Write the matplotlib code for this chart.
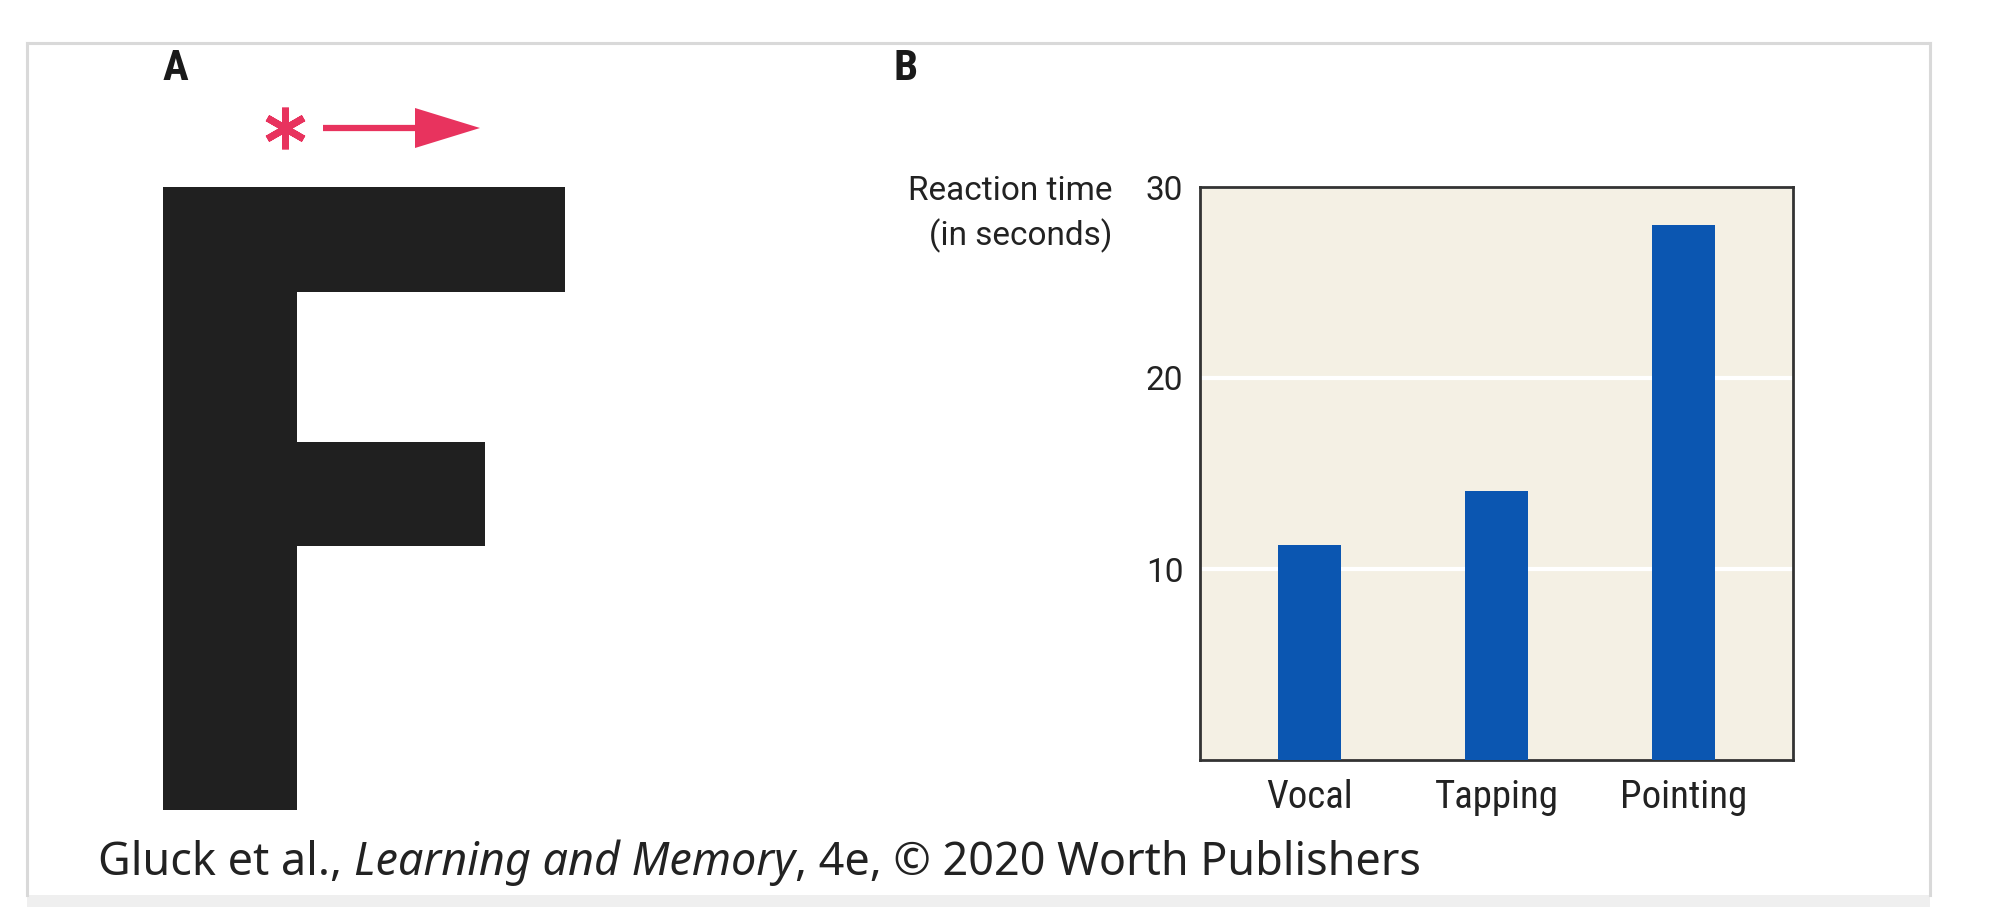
import matplotlib
matplotlib.use("Agg")
import matplotlib.pyplot as plt
from matplotlib import font_manager
from matplotlib.patches import Polygon, Rectangle

# Data for panel B
conditions = ["Vocal", "Tapping", "Pointing"]
reaction_times = [11.25, 14.1, 28.0]
y_ticks = [10, 20, 30]

W, H = 1998, 907
fig = plt.figure(figsize=(W / 100, H / 100), dpi=100)

names = {f.name for f in font_manager.fontManager.ttflist}
italic_names = {f.name for f in font_manager.fontManager.ttflist if f.style == "italic"}
cond_font = next((n for n in ["Roboto Condensed", "Liberation Sans Narrow", "Roboto"] if n in names), "DejaVu Sans")
reg_font = next((n for n in ["Roboto", "Liberation Sans"] if n in names), "DejaVu Sans")
cap_font = next((n for n in ["Noto Sans", "Open Sans", "Lato"] if n in italic_names), "DejaVu Sans")

# background layer in pixel coordinates (frame, stimulus F, arrow)
bg = fig.add_axes([0, 0, 1, 1])
bg.set_xlim(0, W)
bg.set_ylim(H, 0)
bg.axis("off")

frame = "#d9d9d9"
bg.plot([27, 27], [43, 895], color=frame, lw=2.2)
bg.plot([27, 1930], [43, 43], color=frame, lw=2.2)
bg.plot([1930, 1930], [43, 895], color=frame, lw=2.2)
bg.add_patch(Rectangle((27, 895), 1930 - 27, 12, color="#efefef", lw=0))

# letter F
f_color = "#202020"
f_shape = [(163, 187), (565, 187), (565, 292), (297, 292), (297, 442), (485, 442),
           (485, 546), (297, 546), (297, 810), (163, 810)]
bg.add_patch(Polygon(f_shape, closed=True, color=f_color, lw=0))

# asterisk and arrow
pink = "#e8335e"
bg.plot([285], [128], marker=(6, 2, 0), markersize=30, mew=5, color=pink)
bg.plot([323, 418], [128, 128], color=pink, lw=4.5, solid_capstyle="butt")
bg.add_patch(Polygon([(415, 108), (480, 128), (415, 148)], closed=True, color=pink, lw=0))

# panel labels
bg.text(163, 80, "A", fontsize=31, fontweight="bold", family=cond_font, ha="left", va="baseline", color="#1a1a1a")
bg.text(893, 80, "B", fontsize=31, fontweight="bold", family=cond_font, ha="left", va="baseline", color="#1a1a1a")

# bar chart
ax = fig.add_axes([1200 / W, 1 - 760 / H, 593 / W, 573 / H])
ax.set_facecolor("#f4f0e4")
x = list(range(len(conditions)))
ax.bar(x, reaction_times, width=0.337, color="#0b56b1", zorder=3)
ax.set_xlim(-0.585, 2.585)
ax.set_ylim(0, 30)
ax.set_yticks(y_ticks)
ax.set_yticklabels([str(t) for t in y_ticks], fontsize=24, family=reg_font, color="#222222")
ax.set_xticks(x)
ax.set_xticklabels(conditions, fontsize=28, family=cond_font, color="#222222")
ax.tick_params(axis="both", length=0)
ax.tick_params(axis="y", pad=12)
ax.tick_params(axis="x", pad=14)
ax.yaxis.grid(True, color="white", lw=3, zorder=1)
ax.set_axisbelow(True)
for s in ax.spines.values():
    s.set_color("#333333")
    s.set_linewidth(2)

fig.text(1112 / W, 1 - 214 / H, "Reaction time\n(in seconds)", ha="right", va="center",
         multialignment="right", fontsize=24, family=reg_font, color="#222222", linespacing=1.4)

# caption with italic title, scaled to span the reference width
renderer = fig.canvas.get_renderer()
x0, x1 = 98, 1420
y0 = 1 - 875 / H
parts = [("Gluck et al., ", "normal"), ("Learning and Memory", "italic"), (", 4e, © 2020 Worth Publishers", "normal")]
texts = [fig.text(0, y0, txt, fontsize=27, family=cap_font, style=st, color="#222222",
                  ha="left", va="baseline") for txt, st in parts]
total = sum(t.get_window_extent(renderer).width for t in texts)
size = 27 * (x1 - x0) / total
cx = x0
for t in texts:
    t.set_fontsize(size)
    t.set_x(cx / W)
    cx += t.get_window_extent(renderer).width

fig.savefig("out.png", dpi=100)
